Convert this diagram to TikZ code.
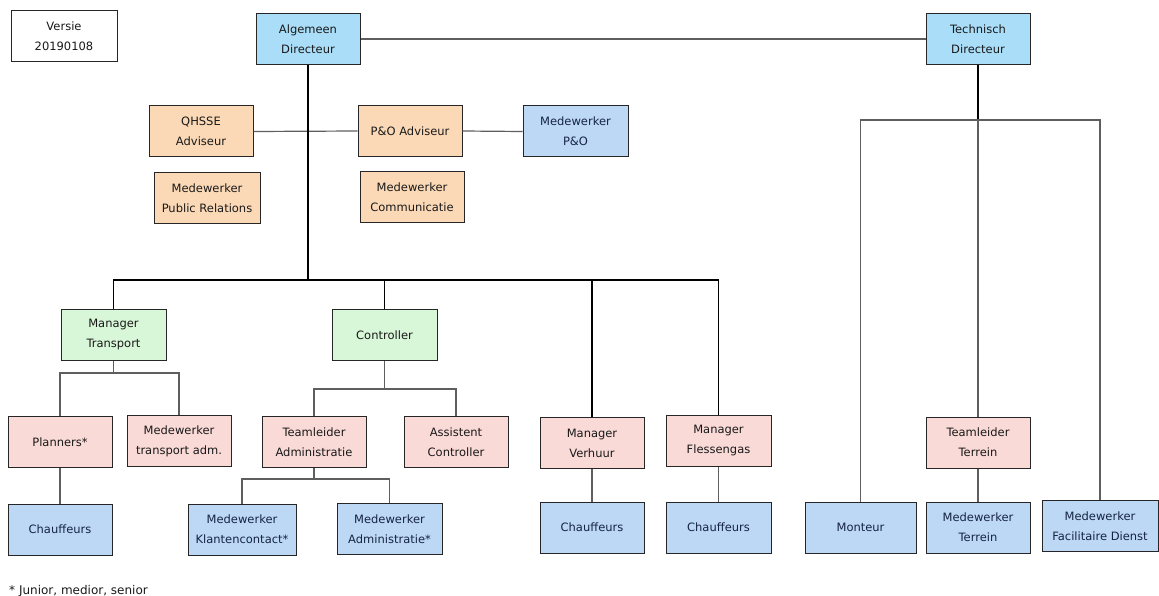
\documentclass[tikz,border=0pt]{standalone}
\usepackage{fontspec}
\setmainfont{DejaVu Sans}
\usepackage{tikz}
\usetikzlibrary{positioning,calc}

\definecolor{dirblue}{HTML}{A9DDF8}
\definecolor{staffblue}{HTML}{BCD8F4}
\definecolor{advorange}{HTML}{FBD9B6}
\definecolor{mgrgreen}{HTML}{D8F6D8}
\definecolor{leadpink}{HTML}{F9DAD7}
\definecolor{linegray}{HTML}{5E5E5E}

\begin{document}
\begin{tikzpicture}[
            x=1pt, y=-1pt,
            box/.style={rectangle, draw=black!85, line width=1pt, minimum height=51pt, minimum width=104pt,
                inner sep=0pt, align=center, text=black!90, font=\fontsize{11.5}{20}\selectfont},
            dirbox/.style={box, fill=dirblue},
            advbox/.style={box, fill=advorange},
            mgrbox/.style={box, fill=mgrgreen},
            leadbox/.style={box, fill=leadpink},
            staffbox/.style={box, fill=staffblue, text={rgb,255:red,22;green,36;blue,66}},
            conn/.style={draw=linegray, line width=1.2pt},
            mainconn/.style={draw=black, line width=1.2pt}
        ]
        \useasboundingbox (0,0) rectangle (1159,596);

        % top
        \node[box, fill=white, minimum width=106pt] (versie) at (64,36.5) {Versie\\20190108};
        \node[dirbox] (algdir) at (308,39) {Algemeen\\Directeur};
        \node[dirbox] (techdir) at (978,39) {Technisch\\Directeur};

        % staff of the Algemeen Directeur
        \node[advbox] (qhsse) at (201,131.5) {QHSSE\\Adviseur};
        \node[advbox] (poadv) at (410,131) {P\&O Adviseur};
        \node[staffbox, minimum width=105pt] (medpo) at (575.5,131.5) {Medewerker\\P\&O};
        \node[advbox, minimum width=106pt] (medpr) at (207,198) {Medewerker\\Public Relations};
        \node[advbox] (medcom) at (412,197.5) {Medewerker\\Communicatie};

        % managers
        \node[mgrbox, minimum width=105pt] (mgrtrans) at (113.5,335) {Manager\\Transport};
        \node[mgrbox, minimum width=105pt] (controller) at (384.5,335) {Controller};
        \node[leadbox] (mgrverh) at (592,443) {Manager\\Verhuur};
        \node[leadbox, minimum width=105pt] (mgrfles) at (718.5,441) {Manager\\Flessengas};

        % transport
        \node[leadbox] (planners) at (60,442) {Planners*};
        \node[leadbox] (medtrans) at (179,441) {Medewerker\\transport adm.};
        \node[staffbox] (chauf1) at (60,529.5) {Chauffeurs};

        % administratie
        \node[leadbox] (tladmin) at (314,442) {Teamleider\\Administratie};
        \node[leadbox] (asscontr) at (456,442) {Assistent\\Controller};
        \node[staffbox, minimum width=108pt] (medklant) at (242,529.5) {Medewerker\\Klantencontact*};
        \node[staffbox, minimum width=105pt] (medadmin) at (389.5,529) {Medewerker\\Administratie*};

        \node[staffbox] (chauf2) at (592,527.5) {Chauffeurs};
        \node[staffbox, minimum width=105pt] (chauf3) at (718.5,527.5) {Chauffeurs};

        % technisch
        \node[staffbox, minimum width=111pt] (monteur) at (860.5,527.5) {Monteur};
        \node[leadbox] (tlterrein) at (978,442.5) {Teamleider\\Terrein};
        \node[staffbox] (medterrein) at (978,527.5) {Medewerker\\Terrein};
        \node[staffbox, minimum width=116pt] (medfac) at (1100,526) {Medewerker\\Facilitaire Dienst};

        \node[anchor=base west, font=\fontsize{12}{14}\selectfont, text=black!90, inner sep=0pt] (note) at (9,594) {* Junior, medior, senior};

        % forks
        \coordinate (bus) at (308,280);
        \coordinate (transfork) at (113.5,373);
        \coordinate (contrfork) at (384.5,389);
        \coordinate (adminfork) at (314,479);
        \coordinate (techfork) at (978,120);

        \draw[conn] (algdir.east) -- (techdir.west);
        \draw[conn] (qhsse.east) -- (poadv.west);
        \draw[conn] (poadv.east) -- (medpo.west);
        \draw[mainconn] (algdir.south) -- (bus);

        \draw[mainconn] (bus) -| (mgrtrans.north);
        \draw[mainconn] (bus) -| (controller.north);
        \draw[mainconn] (bus) -| (mgrverh.north);
        \draw[mainconn] (bus) -| (mgrfles.north);

        \draw[conn] (mgrtrans.south) -- (transfork);
        \draw[conn] (transfork) -| (planners.north);
        \draw[conn] (transfork) -| (medtrans.north);
        \draw[conn] (planners.south) -- (chauf1.north);

        \draw[conn] (controller.south) -- (contrfork);
        \draw[conn] (contrfork) -| (tladmin.north);
        \draw[conn] (contrfork) -| (asscontr.north);
        \draw[conn] (tladmin.south) -- (adminfork);
        \draw[conn] (adminfork) -| (medklant.north);
        \draw[conn] (adminfork) -| (medadmin.north);

        \draw[conn] (mgrverh.south) -- (chauf2.north);
        \draw[conn] (mgrfles.south) -- (chauf3.north);

        \draw[mainconn] (techdir.south) -- (techfork);
        \draw[conn] (techfork) -| (monteur.north);
        \draw[conn] (techfork) -| (medfac.north);
        \draw[conn] (techfork) -- (tlterrein.north);
        \draw[conn] (tlterrein.south) -- (medterrein.north);

    \end{tikzpicture}
\end{document}
